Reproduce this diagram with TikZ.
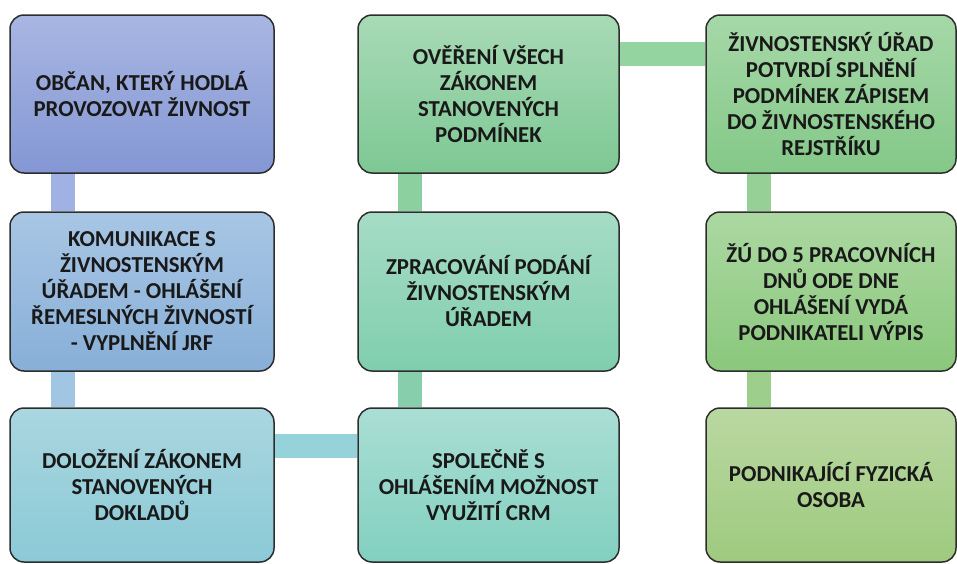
\documentclass[tikz,border=0pt]{standalone}
\usepackage{fontspec}
\setmainfont{Carlito}
\usetikzlibrary{backgrounds}

\definecolor{boxline}{RGB}{45,45,45}

\begin{document}
\begin{tikzpicture}
[every node/.style={inner sep=0pt},
 box/.style={rectangle, rounded corners=14pt, line width=1.5pt, draw=boxline, align=center,
   font=\fontsize{22.8}{26}\selectfont\bfseries, text=black!90},
 colA/.style={box, minimum width=264pt},
 colB/.style={box, minimum width=261pt},
 colC/.style={box, minimum width=250pt},
 link/.style={line width=24pt}]
\useasboundingbox (0pt, 0pt) rectangle (957pt, -563pt);
\node (obcan) [colA, minimum height=158pt, top color={rgb,255:red,168;green,182;blue,226}, bottom color={rgb,255:red,132;green,151;blue,212}] at (142pt, -94pt) {OBČAN, KTERÝ HODLÁ\\PROVOZOVAT ŽIVNOST};
\node (komunikace) [colA, minimum height=159pt, top color={rgb,255:red,168;green,198;blue,228}, bottom color={rgb,255:red,136;green,175;blue,216}] at (142pt, -291.5pt) {KOMUNIKACE S\\ŽIVNOSTENSKÝM\\ÚŘADEM - OHLÁŠENÍ\\ŘEMESLNÝCH ŽIVNOSTÍ\\- VYPLNĚNÍ JRF};
\node (dolozeni) [colA, minimum height=154pt, top color={rgb,255:red,170;green,214;blue,224}, bottom color={rgb,255:red,138;green,202;blue,214}] at (142pt, -485pt) {DOLOŽENÍ ZÁKONEM\\STANOVENÝCH\\DOKLADŮ};
\node (spolecne) [colB, minimum height=154pt, top color={rgb,255:red,170;green,222;blue,212}, bottom color={rgb,255:red,130;green,208;blue,192}] at (488.5pt, -485pt) {SPOLEČNĚ S\\OHLÁŠENÍM MOŽNOST\\VYUŽITÍ CRM};
\node (zpracovani) [colB, minimum height=159pt, top color={rgb,255:red,166;green,220;blue,198}, bottom color={rgb,255:red,128;green,206;blue,174}] at (488.5pt, -291.5pt) {ZPRACOVÁNÍ PODÁNÍ\\ŽIVNOSTENSKÝM\\ÚŘADEM};
\node (overeni) [colB, minimum height=158pt, top color={rgb,255:red,168;green,218;blue,182}, bottom color={rgb,255:red,126;green,200;blue,148}] at (488.5pt, -94pt) {OVĚŘENÍ VŠECH\\ZÁKONEM\\STANOVENÝCH\\PODMÍNEK};
\node (urad) [colC, minimum height=158pt, top color={rgb,255:red,166;green,216;blue,168}, bottom color={rgb,255:red,132;green,200;blue,136}] at (831pt, -94pt) {ŽIVNOSTENSKÝ ÚŘAD\\POTVRDÍ SPLNĚNÍ\\PODMÍNEK ZÁPISEM\\DO ŽIVNOSTENSKÉHO\\REJSTŘÍKU};
\node (vypis) [colC, minimum height=159pt, top color={rgb,255:red,172;green,216;blue,162}, bottom color={rgb,255:red,138;green,200;blue,124}] at (831pt, -291.5pt) {ŽÚ DO 5 PRACOVNÍCH\\DNŮ ODE DNE\\OHLÁŠENÍ VYDÁ\\PODNIKATELI VÝPIS};
\node (osoba) [colC, minimum height=154pt, top color={rgb,255:red,186;green,216;blue,162}, bottom color={rgb,255:red,158;green,202;blue,126}] at (831pt, -485pt) {PODNIKAJÍCÍ FYZICKÁ\\OSOBA};
\begin{pgfonlayer}{background}
\draw [link, color={rgb,255:red,160;green,178;blue,228}] ([xshift=54pt]obcan.south west) to ([xshift=54pt]komunikace.north west);
\draw [link, color={rgb,255:red,160;green,198;blue,228}] ([xshift=54pt]komunikace.south west) to ([xshift=54pt]dolozeni.north west);
\draw [link, color={rgb,255:red,150;green,210;blue,218}] ([yshift=-39pt]dolozeni.north east) to ([yshift=-39pt]spolecne.north west);
\draw [link, color={rgb,255:red,134;green,206;blue,172}] ([xshift=53pt]spolecne.north west) to ([xshift=53pt]zpracovani.south west);
\draw [link, color={rgb,255:red,140;green,208;blue,160}] ([xshift=53pt]zpracovani.north west) to ([xshift=53pt]overeni.south west);
\draw [link, color={rgb,255:red,148;green,212;blue,160}] ([yshift=-40pt]overeni.north east) to ([yshift=-40pt]urad.north west);
\draw [link, color={rgb,255:red,150;green,208;blue,150}] ([xshift=54pt]urad.south west) to ([xshift=54pt]vypis.north west);
\draw [link, color={rgb,255:red,158;green,206;blue,140}] ([xshift=54pt]vypis.south west) to ([xshift=54pt]osoba.north west);
\end{pgfonlayer}
\end{tikzpicture}
\end{document}
